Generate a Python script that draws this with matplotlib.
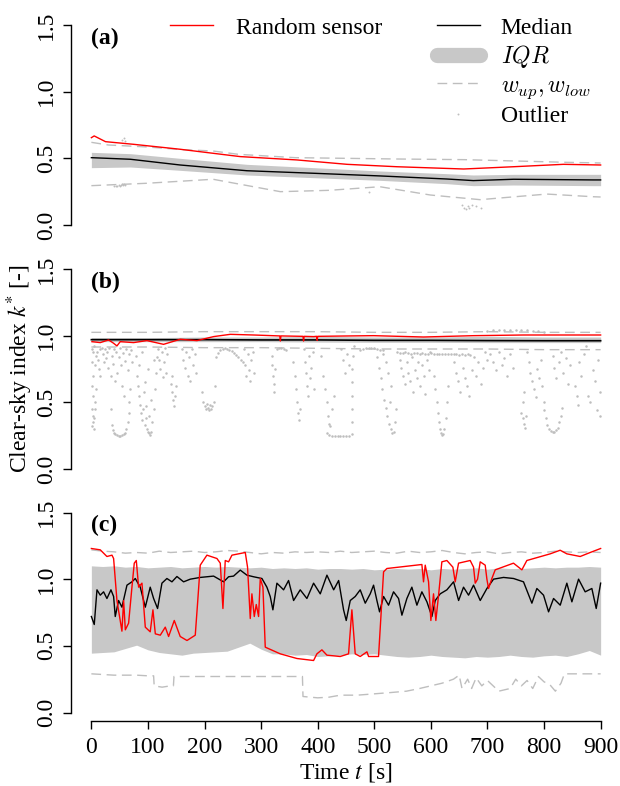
import matplotlib
matplotlib.use("Agg")
import matplotlib.pyplot as plt
from matplotlib.lines import Line2D
import numpy as np

plt.rcParams['font.family'] = ['Liberation Serif', 'DejaVu Serif']
plt.rcParams['mathtext.fontset'] = 'stix'

RED = '#FF0000'
IQR_COL = '#C8C8C8'
WH_COL = '#BEBEBE'
FS = 17

# ---------------- panel (a) ----------------
a_red_t = [0, 5, 25, 75, 157, 263, 363, 452, 540, 658, 746, 834, 900]
a_red_v = [.655, .668, .625, .605, .568, .513, .488, .455, .437, .42, .437, .455, .45]
a_med_t = [0, 69, 157, 275, 393, 510, 628, 675, 746, 887, 900]
a_med_v = [.505, .493, .45, .407, .388, .368, .345, .333, .343, .338, .338]
a_q75_v = [.545, .535, .50, .455, .43, .405, .385, .375, .38, .38, .38]
a_q25_v = [.43, .435, .41, .375, .355, .335, .31, .295, .30, .295, .295]
a_up_t = [0, 30, 100, 160, 215, 260, 360, 450, 540, 660, 750, 840, 900]
a_up_v = [.62, .60, .585, .565, .555, .53, .505, .50, .495, .49, .48, .47, .465]
a_low_t = [0, 98, 215, 334, 420, 510, 599, 687, 805, 887, 900]
a_low_v = [.295, .313, .343, .25, .26, .287, .225, .19, .232, .212, .21]
a_outliers = [(40, .29), (43, .295), (46, .29), (48, .3), (50, .295), (52, .3), (54, .305),
              (56, .3), (58, .31), (60, .3), (55, .64), (57, .65), (59, .63),
              (490, .25), (655, .15), (658, .13), (662, .12), (665, .14), (668, .13),
              (672, .15), (680, .14), (688, .13)]

# ---------------- panel (b) ----------------
b_t = [0, 100, 200, 300, 400, 500, 600, 700, 800, 900]
b_med_v = [.97, .97, .97, .968, .968, .965, .965, .963, .962, .962]
b_q75_v = [.985, .985, .99, .99, .995, .99, .99, .995, .99, .99]
b_q25_v = [.955, .955, .955, .955, .952, .95, .95, .948, .948, .948]
b_up_v = [1.025, 1.025, 1.03, 1.03, 1.03, 1.025, 1.025, 1.03, 1.025, 1.025]
b_low_v = [.915, .915, .91, .91, .905, .9, .9, .9, .895, .895]
b_red_t = [1, 15.7, 30.5, 39.3, 45.2, 51, 74.6, 98.2, 127.6, 157.1, 186.6, 216, 245.5,
           286.7, 333, 334, 335, 374, 375, 376, 392.7, 398, 399, 400, 457.5, 498.7,
           587, 675.4, 763.7, 900]
b_red_v = [.955, .948, .968, .943, .923, .955, .948, .963, .935, .973, .963, .993, 1.01,
           1.005, .998, .96, .998, .995, .96, .995, .993, .995, .965, .995, .998, 1.0,
           .99, 1.0, 1.005, 1.005]
b_outliers = [
    (1, .90), (1, .80), (2, .70), (1, .62), (2, .55), (1, .45), (2, .40), (3, .35), (1, .32),
    (4, .30), (5, .38), (6, .45), (7, .50), (8, .60), (9, .85), (10, .88), (12, .82),
    (14, .75), (15, .70), (16, .90), (3, .88), (5, .92), (7, .78),
    (34, .45), (36, .33), (38, .29), (40, .27), (42, .26), (45, .255), (48, .25), (51, .25),
    (54, .255), (57, .26), (60, .27), (62, .30), (64, .35), (66, .42), (67, .5),
    (18, .91), (20, .86), (22, .80), (24, .90), (26, .83), (28, .88), (30, .76), (32, .91),
    (34, .70), (36, .85), (38, .79), (40, .90), (42, .66), (44, .88), (46, .72), (48, .84),
    (50, .91), (52, .78), (54, .62), (56, .87), (58, .55), (60, .81), (62, .90), (64, .74),
    (66, .86), (68, .60), (70, .89), (72, .80),
    (78, .85), (80, .7), (82, .62), (84, .55), (86, .48), (88, .42), (90, .37), (92, .45),
    (94, .33), (96, .38), (98, .30), (100, .28), (102, .27), (104, .255), (106, .28),
    (108, .35), (110, .45), (112, .6), (114, .72), (116, .84), (85, .78), (90, .88),
    (95, .65), (100, .75), (105, .52), (110, .82), (93, .58), (97, .47), (101, .40),
    (118, .90), (120, .82), (122, .75), (124, .88), (126, .69), (128, .80), (130, .91),
    (132, .72), (134, .86),
    (140, .64), (142, .58), (144, .52), (146, .47), (148, .55), (150, .62), (143, .70),
    (160, .9), (162, .82), (165, .76), (168, .88), (170, .70), (172, .84), (175, .66),
    (178, .90), (180, .78), (183, .86), (185, .72),
    (198, .50), (200, .47), (202, .45), (204, .49), (206, .46), (208, .44), (210, .48),
    (212, .45), (214, .47), (216, .50), (196, .58), (218, .62),
    (220, .84), (224, .87), (228, .89), (232, .9), (236, .905), (240, .9), (244, .895),
    (248, .885), (252, .87), (256, .855), (260, .84), (264, .82), (268, .80),
    (270, .9), (272, .78), (274, .70), (276, .86), (278, .74), (280, .66), (282, .82),
    (285, .88), (288, .72),
    (319, .85), (320, .78), (321, .70), (322, .64), (323, .58), (325, .75),
    (328, .9), (332, .91), (336, .905), (340, .9), (344, .89),
    (357, .8), (359, .7), (361, .6), (363, .5), (365, .42), (367, .37), (369, .45),
    (375, .9), (377, .8), (379, .72), (381, .62), (383, .55), (385, .85), (387, .68),
    (389, .76), (391, .88), (393, .60),
    (406, .85), (410, .7), (413, .6), (416, .5), (418, .4), (420, .34), (422, .32),
    (425, .45), (428, .55),
    (416, .27), (420, .255), (425, .25), (430, .25), (435, .25), (440, .25), (445, .25),
    (450, .25), (455, .25), (460, .26),
    (460, .35), (460, .45), (460, .55), (461, .65), (461, .75), (462, .85),
    (442, .9), (445, .82), (448, .72), (452, .86), (456, .78), (465, .92),
    (475, .89), (480, .9), (485, .905), (490, .91), (495, .91), (500, .905), (505, .9),
    (510, .895), (515, .89),
    (505, .84), (508, .76), (511, .68), (514, .60), (517, .52), (520, .46), (523, .40),
    (526, .34), (529, .30), (532, .27), (535, .28), (537, .35), (539, .45), (520, .80),
    (525, .72), (515, .86), (530, .62), (528, .50),
    (540, .875), (545, .87), (550, .87), (555, .875), (560, .87), (565, .865), (570, .87),
    (575, .87), (580, .865), (585, .87), (590, .86), (595, .865), (600, .87), (605, .865),
    (610, .86), (615, .865), (620, .86), (625, .865), (630, .86), (635, .865), (640, .86),
    (645, .86), (650, .855), (655, .86), (660, .855), (665, .86), (670, .855),
    (545, .82), (548, .76), (551, .70), (554, .64), (557, .80), (560, .72), (563, .66),
    (566, .84), (569, .58), (572, .74), (575, .68), (578, .80), (581, .62), (584, .78),
    (587, .70), (590, .56), (593, .82), (596, .74), (599, .88),
    (606, .7), (608, .6), (610, .5), (612, .42), (614, .35), (616, .3), (618, .27),
    (620, .255), (622, .26), (624, .3), (626, .38), (628, .5), (630, .62),
    (640, .80), (644, .72), (648, .66), (652, .58), (656, .76), (660, .68), (664, .62),
    (668, .55), (672, .74), (676, .84), (680, .70), (684, .80), (688, .64), (692, .76),
    (696, .88), (700, .82),
    (705, .86), (710, .80), (715, .74), (720, .88), (725, .78), (730, .83), (735, .70),
    (740, .86), (745, .76),
    (760, .42), (762, .38), (764, .34), (766, .31), (768, .40), (763, .50), (765, .58),
    (770, .88), (773, .80), (776, .72), (779, .66), (782, .60), (785, .54), (788, .75),
    (791, .68), (794, .82), (797, .62), (800, .50),
    (800, .44), (803, .38), (806, .33), (809, .30), (812, .285), (815, .28), (818, .28),
    (821, .29), (824, .31), (827, .35), (830, .40), (832, .46),
    (815, .85), (818, .76), (822, .68), (826, .80), (830, .88), (834, .72), (838, .83),
    (842, .64), (845, .78),
    (855, .62), (858, .55), (860, .48), (862, .80), (866, .70), (870, .86), (874, .92),
    (878, .55), (882, .50), (886, .74), (890, .66), (893, .44), (896, .82), (899, .40),
    (899, .58),
    (700, 1.035), (710, 1.04), (720, 1.04), (730, 1.045), (740, 1.045), (750, 1.04),
    (760, 1.04), (770, 1.04), (780, 1.035), (790, 1.035), (800, 1.03),
]

# ---------------- panel (c) ----------------
c_band_t = [0, 20, 40, 60, 80, 100, 120, 140, 160, 180, 200, 220, 240, 260, 280, 300,
            320, 340, 360, 380, 400, 420, 440, 460, 480, 500, 520, 540, 560, 580, 600,
            620, 640, 660, 680, 700, 720, 740, 760, 780, 800, 820, 840, 860, 880, 900]
c_q75_v = [1.10, 1.095, 1.10, 1.09, 1.095, 1.085, 1.09, 1.095, 1.085, 1.09, 1.095, 1.09,
           1.095, 1.09, 1.085, 1.09, 1.08, 1.085, 1.08, 1.085, 1.075, 1.08, 1.08, 1.075,
           1.08, 1.07, 1.075, 1.08, 1.075, 1.08, 1.07, 1.08, 1.075, 1.08, 1.085, 1.075,
           1.085, 1.08, 1.08, 1.085, 1.09, 1.085, 1.09, 1.09, 1.095, 1.09]
c_q25_v = [.445, .45, .455, .48, .505, .47, .45, .44, .43, .445, .45, .455, .46, .49,
           .52, .475, .44, .44, .43, .435, .42, .425, .43, .44, .435, .44, .43, .42, .415,
           .42, .43, .42, .415, .41, .42, .415, .42, .43, .42, .415, .425, .43, .42, .44,
           .465, .43]
c_up_v = [1.22, 1.21, 1.205, 1.195, 1.2, 1.195, 1.21, 1.2, 1.205, 1.21, 1.2, 1.205,
          1.215, 1.21, 1.2, 1.19, 1.2, 1.195, 1.205, 1.2, 1.205, 1.2, 1.21, 1.2, 1.205,
          1.21, 1.2, 1.195, 1.21, 1.2, 1.205, 1.215, 1.2, 1.19, 1.2, 1.205, 1.19, 1.2,
          1.205, 1.195, 1.2, 1.21, 1.205, 1.2, 1.205, 1.2]
c_low_t = [0, 20, 40, 60, 80, 100, 110, 111, 125, 140, 145, 146, 180, 220, 260, 300,
           340, 373, 374, 400, 420, 440, 470, 500, 530, 557, 580, 600, 620, 640, 650,
           655, 665, 672, 680, 690, 700, 710, 720, 740, 750, 760, 770, 780, 790, 800,
           810, 820, 830, 836, 860, 900]
c_low_v = [.29, .285, .28, .28, .28, .275, .275, .2, .19, .2, .2, .27, .27, .27, .27,
           .27, .27, .27, .12, .11, .115, .13, .13, .14, .15, .16, .18, .2, .22, .25,
           .28, .18, .25, .18, .26, .2, .24, .2, .16, .18, .25, .2, .24, .18, .27, .23,
           .21, .16, .22, .29, .29, .29]
c_red_t = [0, 15.7, 27.5, 36.4, 39.3, 45.2, 54, 57, 60, 65.8, 71.7, 75.8, 79.4, 83.5,
           89.4, 95.3, 104, 108.8, 113, 121.8, 130.6, 136.5, 146.5, 157, 169, 183.6,
           187.7, 192.4, 204.2, 221.9, 227.8, 232.5, 236.6, 242.5, 248.4, 272, 276,
           280.8, 283.7, 287.9, 291.4, 295.5, 298.5, 303.2, 307.3, 333.8, 363.3, 392.7,
           398.6, 407.4, 416.3, 439.8, 454.5, 460.4, 466.3, 475.1, 487, 489.9, 507.5,
           516.4, 522.3, 584.1, 587, 590, 595.9, 600, 604.7, 608.8, 613.6, 619.4, 628.3,
           638.9, 643, 648.9, 669.5, 675.4, 678.4, 682.5, 687.2, 696, 699, 701.9, 707.8,
           713.7, 746, 760.8, 769.6, 810.9, 828.5, 840.3, 863.9, 881.5, 900]
c_red_v = [1.23, 1.22, 1.17, 1.18, 1.155, .84, .61, .84, .62, .67, .94, 1.12, 1.14, .94,
           .97, .64, .605, .77, .59, .58, .64, .57, .69, .57, .54, .58, .82, 1.105, 1.18,
           1.155, 1.12, .78, 1.14, 1.13, 1.18, 1.2, 1.09, .705, .89, .72, .81, .72, 1.005,
           .94, .49, .44, .405, .39, .44, .47, .43, .42, .44, .77, .44, .42, .455, .42,
           .42, 1.055, 1.08, 1.11, .98, 1.105, .98, .69, .89, .69, .88, 1.13, 1.14, 1.09,
           .98, 1.12, 1.14, 1.09, .97, 1.0, 1.13, 1.105, 1.0, .93, 1.005, 1.07, 1.12,
           1.07, 1.14, 1.19, 1.217, 1.19, 1.17, 1.2, 1.23]
c_med_t = [0, 5.1, 9.9, 15.7, 21.6, 27.5, 34.6, 39.3, 42.2, 48.1, 54, 62.9, 71.7, 77.6,
           86.4, 95.3, 104, 110, 117, 124.7, 133.5, 142.4, 151.2, 163, 174.8, 192.4, 216,
           233.7, 242.5, 251.3, 263.1, 274.9, 286.7, 301.4, 310.2, 316.1, 320.8, 327.9,
           339.7, 348.5, 357.4, 369.1, 380.9, 392.7, 404.5, 416.3, 428.2, 437, 445.7,
           450.4, 457.5, 466.3, 475.1, 484, 492.8, 498.7, 504.6, 509.3, 516.4, 525.2,
           534, 542.9, 548.8, 557.6, 566.4, 575.3, 584.1, 593, 601.8, 607.7, 616.5,
           628.3, 640.1, 649, 657.7, 666.6, 675.4, 687.2, 699, 710.7, 728.4, 746.1,
           763.7, 778.5, 787.3, 799.1, 808, 816.8, 828.6, 840.3, 849.2, 861, 872.7,
           884.5, 892.2, 900]
c_med_v = [.72, .66, .92, .88, .905, .855, .92, .87, .72, .84, .79, .955, .98, 1.005,
           .94, .79, .94, .855, .78, .97, 1.005, .98, 1.02, .98, 1.0, 1.013, 1.023, .98,
           1.018, 1.023, 1.068, 1.03, 1.018, 1.005, .94, .87, .77, .97, .92, .99, .84,
           .92, .855, .97, .89, 1.03, .92, .99, .77, .69, .84, .87, .92, .82, .89, .955,
           .84, .755, .87, .805, .905, .855, .73, .855, .94, .805, .905, .83, .72, .84,
           .89, .92, .98, .84, .94, .88, .955, .84, .93, 1.0, 1.013, 1.005, .98, .82, .93,
           .88, .755, .855, .805, .97, .83, 1.0, .905, .93, .78, .97]

y_ticks = [0.0, 0.5, 1.0, 1.5]
x_ticks = [0, 100, 200, 300, 400, 500, 600, 700, 800, 900]


def style_axis(ax, bottom=False):
    ax.set_xlim(-36, 936)
    ax.set_ylim(-0.06, 1.56)
    for s in ['top', 'right']:
        ax.spines[s].set_visible(False)
    ax.spines['left'].set_bounds(0, 1.5)
    ax.spines['left'].set_linewidth(1.0)
    ax.set_yticks(y_ticks)
    ax.set_yticklabels([f"{v:.1f}" for v in y_ticks], rotation=90, va='center')
    ax.tick_params(axis='y', length=6, width=1.0, pad=4, labelsize=FS)
    if bottom:
        ax.spines['bottom'].set_bounds(0, 900)
        ax.spines['bottom'].set_linewidth(1.0)
        ax.set_xticks(x_ticks)
        ax.tick_params(axis='x', length=6, width=1.0, pad=6, labelsize=FS)
    else:
        ax.spines['bottom'].set_visible(False)
        ax.set_xticks([])


fig = plt.figure(figsize=(6.2, 7.86), dpi=100)
h = 216 / 786
ax_a = fig.add_axes([71 / 620, 1 - 233 / 786, 550 / 620, h])
ax_b = fig.add_axes([71 / 620, 1 - 477 / 786, 550 / 620, h])
ax_c = fig.add_axes([71 / 620, 1 - 720.5 / 786, 550 / 620, h])

# panel (a)
ax_a.fill_between(a_med_t, a_q25_v, a_q75_v, color=IQR_COL, lw=0)
ax_a.plot(a_up_t, a_up_v, color=WH_COL, lw=1, dashes=(7, 4))
ax_a.plot(a_low_t, a_low_v, color=WH_COL, lw=1, dashes=(7, 4))
oa = np.array(a_outliers)
ax_a.plot(oa[:, 0], oa[:, 1], 'o', color=WH_COL, ms=1.4, mew=0)
ax_a.plot(a_med_t, a_med_v, color='black', lw=1)
ax_a.plot(a_red_t, a_red_v, color=RED, lw=1)

# panel (b)
ax_b.fill_between(b_t, b_q25_v, b_q75_v, color=IQR_COL, lw=0)
ax_b.plot(b_t, b_up_v, color=WH_COL, lw=1, dashes=(7, 4))
ax_b.plot(b_t, b_low_v, color=WH_COL, lw=1, dashes=(7, 4))
ob = np.array(b_outliers)
ax_b.plot(ob[:, 0], ob[:, 1], 'o', color=WH_COL, ms=1.8, mew=0)
ax_b.plot(b_t, b_med_v, color='black', lw=1.2)
ax_b.plot(b_red_t, b_red_v, color=RED, lw=1)

# panel (c)
ax_c.fill_between(c_band_t, c_q25_v, c_q75_v, color=IQR_COL, lw=0)
ax_c.plot(c_band_t, c_up_v, color=WH_COL, lw=1, dashes=(7, 4))
ax_c.plot(c_low_t, c_low_v, color=WH_COL, lw=1, dashes=(7, 4))
ax_c.plot(c_med_t, c_med_v, color='black', lw=1)
ax_c.plot(c_red_t, c_red_v, color=RED, lw=1)

for ax, lab, bottom in [(ax_a, '(a)', False), (ax_b, '(b)', False), (ax_c, '(c)', True)]:
    style_axis(ax, bottom)
    ax.text(0, 1.4, lab, fontsize=FS, fontweight='bold', ha='left', va='center')

# legend
h_red = Line2D([], [], color=RED, lw=1)
h_med = Line2D([], [], color='black', lw=1)
h_iqr = Line2D([], [], color=IQR_COL, lw=11, solid_capstyle='round')
h_wh = Line2D([], [], color=WH_COL, lw=1, dashes=(7, 4))
h_out = Line2D([], [], color=WH_COL, marker='o', ms=1.4, mew=0, lw=0)
leg1 = ax_a.legend([h_red], ['Random sensor'], loc='upper left',
                   bbox_to_anchor=((170 - 71) / 550, 1.0), frameon=False,
                   fontsize=FS, handlelength=1.8, handletextpad=1.0,
                   borderpad=0, borderaxespad=0)
ax_a.add_artist(leg1)
leg2 = ax_a.legend([h_med, h_iqr, h_wh, h_out],
                   ['Median', '$IQR$', '$w_{up}, w_{low}$', 'Outlier'],
                   loc='upper left', bbox_to_anchor=((437 - 71) / 550, 1.0),
                   frameon=False, fontsize=FS, handlelength=1.8, handletextpad=0.9,
                   borderpad=0, borderaxespad=0, labelspacing=0.2)
for t in leg2.get_texts():
    t.set_math_fontfamily('cm')

fig.text(20 / 620, 1 - 369 / 786, 'Clear-sky index $k^{*}$ [-]', rotation=90,
         ha='center', va='center', fontsize=FS)
fig.text(346 / 620, 1 - 773 / 786, 'Time $t$ [s]', ha='center', va='center', fontsize=FS)

fig.savefig('out.png', dpi=100)
